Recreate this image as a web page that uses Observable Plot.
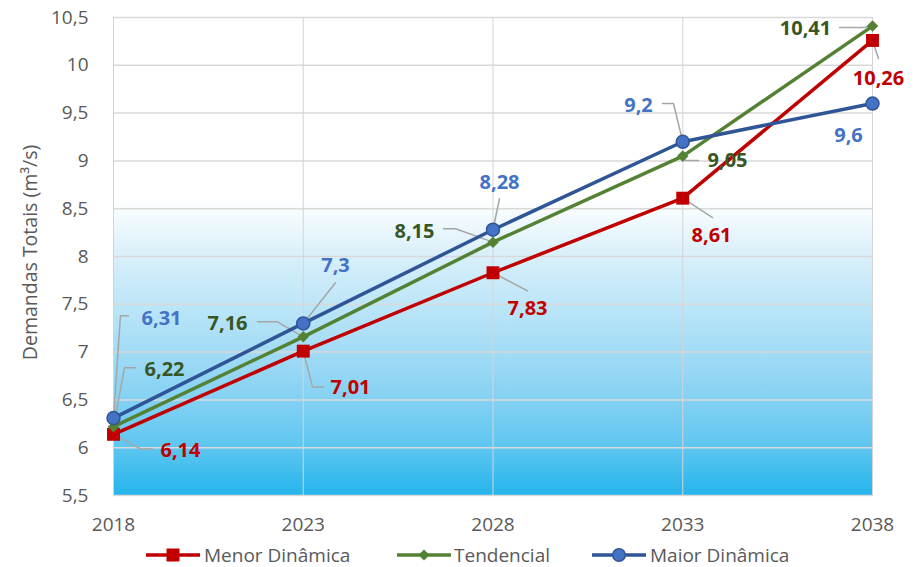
<!DOCTYPE html>
<html><head><meta charset="utf-8">
<script src="https://cdn.jsdelivr.net/npm/d3@7"></script>
<script src="https://cdn.jsdelivr.net/npm/@observablehq/plot@0.6"></script>
<style>
body{margin:0;background:#fff;font-family:"Open Sans",sans-serif;}
#chart{width:917px;height:567px;position:relative;overflow:hidden}
.lg{position:absolute;top:543px;height:24px;display:flex;align-items:center;color:#595959;font-size:19px;font-family:"Open Sans",sans-serif;white-space:nowrap}
.lg svg{display:block}
</style></head><body><div id="chart"></div>
<script>
// ---- data ----
const years = [2018, 2023, 2028, 2033, 2038];
const menor = [6.14, 7.01, 7.83, 8.61, 10.26];
const tendencial = [6.22, 7.16, 8.15, 9.05, 10.41];
const maior = [6.31, 7.3, 8.28, 9.2, 9.6];
const seriesNames = ["Menor Dinâmica", "Tendencial", "Maior Dinâmica"];
const yTicks = [5.5, 6, 6.5, 7, 7.5, 8, 8.5, 9, 9.5, 10, 10.5];
const yLabel = "Demandas Totais (m³/s)";

// ---- label layout (data-space anchors for data labels and leader lines) ----
const labelPosMenor = [[2019.765,5.966],[2024.245,6.626],[2028.909,7.453],[2033.758,8.217],[2038.158,9.861]];
const leaderMenor = [[[2018.711,5.987],[2019.028,5.987]],[[2023.244,6.636],[2023.534,6.636]],[[2028.909,7.641]],[[2033.784,8.406]],[[2038.158,10.071]]];
const labelPosTend = [[2019.344,6.814],[2021.004,7.296],[2025.931,8.259],[2034.179,9.003],[2036.235,10.385]];
const leaderTend = [[[2018.29,6.835],[2018.58,6.835]],[[2022.321,7.317],[2021.794,7.317]],[[2027.012,8.291],[2026.696,8.291]],[[2033.073,9.003],[2033.416,9.003]],[[2037.764,10.395],[2037.131,10.395]]];
const labelPosMaior = [[2019.265,7.348],[2023.85,7.903],[2028.171,8.772],[2031.834,9.579],[2037.368,9.264]];
const leaderMaior = [[[2018.184,7.38],[2018.395,7.38]],[[2023.85,7.725]],[[2028.171,8.605]],[[2032.756,9.6],[2032.466,9.6]],[]];

const colors = {line:["#c00000","#548235","#2f5597"], label:["#c00000","#375623","#4472c4"]};
const fmt = v => String(v).replace(".", ",");

const allVals = [menor, tendencial, maior];
const allPos = [labelPosMenor, labelPosTend, labelPosMaior];
const allLead = [leaderMenor, leaderTend, leaderMaior];

const seriesRows = allVals.map((vals, s) => years.map((yr, i) => ({series: seriesNames[s], year: yr, value: vals[i]})));
const labelRows = allVals.map((vals, s) => years.map((yr, i) => ({lx: allPos[s][i][0], ly: allPos[s][i][1], label: fmt(vals[i])})));
const leaderRows = [];
allVals.forEach((vals, s) => years.forEach((yr, i) => {
  const pts = allLead[s][i];
  if (!pts.length) return;
  const id = s + "-" + i;
  leaderRows.push({id, x: yr, y: vals[i]});
  pts.forEach(p => leaderRows.push({id, x: p[0], y: p[1]}));
}));

const diamond = {draw(ctx, size){ const r = Math.sqrt(size/2); ctx.moveTo(0,-r); ctx.lineTo(r,0); ctx.lineTo(0,r); ctx.lineTo(-r,0); ctx.closePath(); }};

const plot = Plot.plot({
  width: 917, height: 540,
  marginLeft: 113, marginRight: 45, marginTop: 17, marginBottom: 45,
  x: {domain: [2018, 2038]},
  y: {domain: [5.5, 10.5]},
  style: {fontFamily: "'Open Sans', sans-serif", fontSize: "19px", color: "#595959", background: "transparent", overflow: "visible"},
  marks: [
    Plot.frame({fill: "url(#bg)", stroke: "none"}),
    Plot.gridY(yTicks, {stroke: "#d9d9d9", strokeOpacity: 1, strokeWidth: 1.5}),
    Plot.gridX(years, {stroke: "#d4d4d4", strokeOpacity: 1, strokeWidth: 1}),
    Plot.axisY(yTicks, {tickSize: 0, tickPadding: 25, tickFormat: fmt, label: null, fill: "#595959"}),
    Plot.axisX(years, {tickSize: 0, tickPadding: 22, tickFormat: d => String(d), label: null, fill: "#595959"}),
    Plot.text([yLabel], {frameAnchor: "left", textAnchor: "middle", rotate: -90, dx: -83, dy: -4, fontSize: 19.5, fill: "#595959"}),
    Plot.line(leaderRows, {x: "x", y: "y", z: "id", stroke: "#a6a6a6", strokeWidth: 1.5}),
    Plot.line(seriesRows[0], {x: "year", y: "value", stroke: colors.line[0], strokeWidth: 3.5}),
    Plot.line(seriesRows[1], {x: "year", y: "value", stroke: colors.line[1], strokeWidth: 3.5}),
    Plot.line(seriesRows[2], {x: "year", y: "value", stroke: colors.line[2], strokeWidth: 3.5}),
    Plot.dot(seriesRows[0], {x: "year", y: "value", symbol: "square", r: 7.3, fill: colors.line[0]}),
    Plot.dot(seriesRows[1], {x: "year", y: "value", symbol: diamond, r: 4.6, fill: colors.line[1]}),
    Plot.dot(seriesRows[2], {x: "year", y: "value", symbol: "circle", r: 6.5, fill: "#4472c4", stroke: colors.line[2], strokeWidth: 1.5}),
    ...labelRows.map((rows, s) => Plot.text(rows, {x: "lx", y: "ly", text: "label", fill: colors.label[s], fontWeight: "bold", fontSize: 20}))
  ]
});

const svg = d3.select(plot);
const grad = svg.insert("defs", ":first-child").append("linearGradient")
  .attr("id", "bg").attr("x1", 0).attr("y1", 0).attr("x2", 0).attr("y2", 1);
[["0","#ffffff"],["0.38","#ffffff"],["0.5","#d8effa"],["0.6","#bde6f8"],["0.7","#a2dbf5"],["0.8","#84d1f3"],["0.9","#5dc6f0"],["1","#24b4ec"]]
  .forEach(([o, c]) => grad.append("stop").attr("offset", o).attr("stop-color", c));

const chart = document.getElementById("chart");
chart.appendChild(plot);

// legend
const legendPos = [[146, 204], [397, 454], [592, 650]];
seriesNames.forEach((name, s) => {
  const sw = document.createElement("div");
  sw.className = "lg"; sw.style.left = legendPos[s][0] + "px";
  const w = 54, h = 20;
  let marker;
  if (s === 0) marker = `<rect x="${w/2-6.5}" y="${h/2-6.5}" width="13" height="13" fill="${colors.line[0]}"/>`;
  else if (s === 1) marker = `<path d="M${w/2},${h/2-5.6}L${w/2+5.6},${h/2}L${w/2},${h/2+5.6}L${w/2-5.6},${h/2}Z" fill="${colors.line[1]}"/>`;
  else marker = `<circle cx="${w/2}" cy="${h/2}" r="6.3" fill="#4472c4" stroke="${colors.line[2]}" stroke-width="1.5"/>`;
  sw.innerHTML = `<svg width="${w}" height="${h}"><line x1="0" x2="${w}" y1="${h/2}" y2="${h/2}" stroke="${colors.line[s]}" stroke-width="3.5"/>${marker}</svg>`;
  chart.appendChild(sw);
  const tx = document.createElement("div");
  tx.className = "lg"; tx.style.left = legendPos[s][1] + "px";
  tx.textContent = name;
  chart.appendChild(tx);
});
</script></body></html>
